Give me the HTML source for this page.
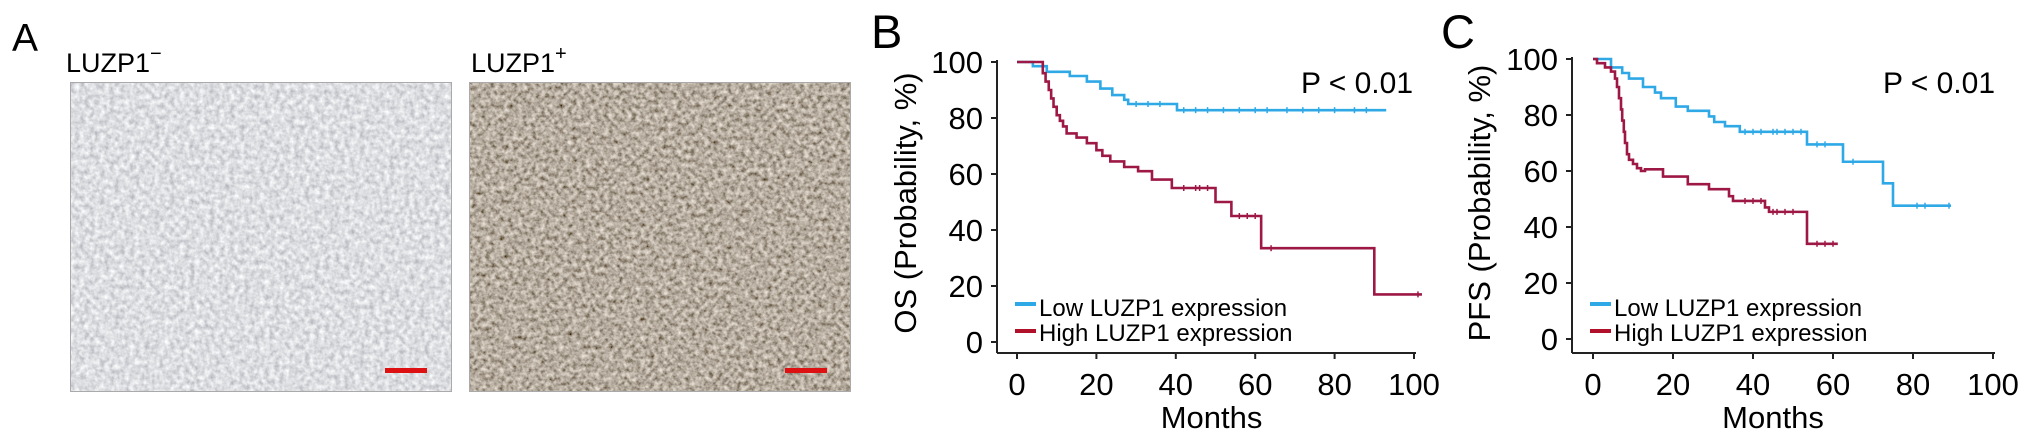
<!DOCTYPE html>
<html><head><meta charset="utf-8">
<style>
html,body{margin:0;padding:0;background:#fff;}
body{width:2032px;height:442px;overflow:hidden;position:relative;font-family:"Liberation Sans",Arial,sans-serif;}
svg{position:absolute;left:0;top:0;}
text{font-family:"Liberation Sans",Arial,sans-serif;fill:#000;}
</style></head>
<body>
<svg id="fig" width="2032" height="442" viewBox="0 0 2032 442">
<defs>
<filter id="texL" x="0" y="0" width="1" height="1">
<feTurbulence type="fractalNoise" baseFrequency="0.2" numOctaves="3" seed="3" result="n"/>
<feColorMatrix in="n" type="matrix" values="0.7 0 0 0 0.37  0.7 0 0 0 0.38  0.65 0 0 0 0.43  0 0 0 0 1"/>
</filter>
<filter id="texR" x="0" y="0" width="1" height="1">
<feTurbulence type="fractalNoise" baseFrequency="0.22" numOctaves="3" seed="7" result="n"/>
<feColorMatrix in="n" type="matrix" values="1.0 0 0 0 -0.03  0.95 0 0 0 -0.06  0.9 0 0 0 -0.1  0 0 0 0 1"/>
</filter>
</defs>
<!-- Panel A -->
<text x="12" y="51" font-size="39">A</text>
<text x="66" y="72" font-size="27">LUZP1<tspan font-size="20" dy="-12">−</tspan></text>
<text x="471" y="72" font-size="27">LUZP1<tspan font-size="20" dy="-12">+</tspan></text>
<g>
<rect x="70" y="82" width="382" height="310" filter="url(#texL)"/>
<rect x="70.5" y="82.5" width="381" height="309" fill="none" stroke="#aaa" stroke-width="1"/>
<rect x="385" y="368" width="42" height="5" fill="#d11"/>
</g>
<g>
<rect x="469" y="82" width="382" height="310" filter="url(#texR)"/>
<rect x="469.5" y="82.5" width="381" height="309" fill="none" stroke="#aaa" stroke-width="1"/>
<rect x="785" y="368" width="42" height="5" fill="#d11"/>
</g>
<g id="chartB"></g>
<g id="chartC"></g>
</svg>
<script>
// ---- data: chart B (OS) step functions: [month, survival%] change points ----
const osLowT = [0,4,7.5,13.3,17.6,21,24,27,28,40.3,93];
const osLowS = [100,98.5,96.5,95,93,90.5,88.2,86.5,85,82.8,82.8];
const osLowCens = [30,33,36,42,45,48,52,56,60,63,68,72,76,80,85,88];
const osHighT = [0,6.5,7.2,8,8.6,9.2,10,10.8,11.6,12.5,15,17.6,20,21.5,23.5,27,30.5,34,39,50,54,61.5,90,102];
const osHighS = [100,96,93,90,87,84,81,79,77,74.5,73,71,68.5,66.5,64.5,62.5,61,58,55,50,45,33.5,17,17];
const osHighCens = [42,45,46,48,56,58,60,64,101];
// ---- data: chart C (PFS) ----
const pfsLowT = [0,4.5,7.3,9,12.5,15.5,17,20.7,23.7,29,30.3,33,36.7,53.5,62.5,72.5,75,89.5];
const pfsLowS = [100,97,95,93,90,88,86,83,81.5,79.5,77.5,76,74,69.5,63.3,55.6,47.6,47.6];
const pfsLowCens = [38,40,42,45,46,48,50,52,56,58,65,81,83,89];
const pfsHighT = [0,1,3,4.5,5.5,6,6.5,7,7.3,7.7,8,8.5,9,10,11,12,13,17.5,23.7,29,34,35,43,44,53.5,61.2];
const pfsHighS = [100,98.5,97,95.5,93,90,86,82,78,74,70,66,64,62.5,61,60,60.6,58,55.3,53.5,51,49.3,47,45.4,34,34];
const pfsHighCens = [38,40,42,45,46,48,50,56,58,60];
const xTicks = [0,20,40,60,80,100];
const yTicks = [0,20,40,60,80,100];

const NS = "http://www.w3.org/2000/svg";
function mk(parent, tag, attrs){ const e=document.createElementNS(NS,tag); for(const k in attrs) e.setAttribute(k,attrs[k]); parent.appendChild(e); return e; }
function stepAt(T,S,t){ let v=S[0]; for(let i=0;i<T.length;i++){ if(T[i]<=t) v=S[i]; } return v; }

function drawChart(g, cfg){
  const xs = m => cfg.x0 + m*cfg.kx;
  const ys = p => cfg.y0 - p*cfg.ky;
  let ax = mk(g,'line',{x1:cfg.axX,y1:ys(100)-2,x2:cfg.axX,y2:cfg.axY,stroke:'#222','stroke-width':2});
   
  let bx = mk(g,'line',{x1:cfg.axX,y1:cfg.axY,x2:xs(100)+2,y2:cfg.axY,stroke:'#222','stroke-width':2});
   
  yTicks.forEach(v=>{
    const t = mk(g,'line',{x1:cfg.axX-6,y1:ys(v),x2:cfg.axX,y2:ys(v),stroke:'#222','stroke-width':2});
     
    const l = mk(g,'text',{x:cfg.axX-14,y:ys(v)+11,'font-size':31,'text-anchor':'end'});
    l.textContent = v;
     
  });
  xTicks.forEach(v=>{
    const t = mk(g,'line',{x1:xs(v),y1:cfg.axY,x2:xs(v),y2:cfg.axY+6,stroke:'#222','stroke-width':2});
     
    const l = mk(g,'text',{x:xs(v),y:395,'font-size':31,'text-anchor':'middle'});
    l.textContent = v;
     
  });
  const xt = mk(g,'text',{x:xs(cfg.monthsAt),y:428,'font-size':31,'text-anchor':'middle'});
  xt.textContent='Months';
   
  const yt = mk(g,'text',{x:0,y:0,'font-size':31,'text-anchor':'middle',transform:`translate(${cfg.ytX},203) rotate(-90)`});
  yt.textContent = cfg.ytitle;
   
  const pl = mk(g,'text',{x:cfg.letterX,y:48,'font-size':47});
  pl.textContent = cfg.letter;
   
  const pv = mk(g,'text',{x:cfg.pX,y:93,'font-size':30,'text-anchor':'end'});
  pv.textContent='P < 0.01';
   
  cfg.series.forEach(s=>{
    let d = `M${xs(s.T[0])},${ys(s.S[0])}`;
    for(let i=1;i<s.T.length;i++){ d += ` H${xs(s.T[i])} V${ys(s.S[i])}`; }
    const p = mk(g,'path',{d:d,fill:'none',stroke:s.color,'stroke-width':2.6,'stroke-linejoin':'miter'});
     
    s.C.forEach(c=>{
      const v = stepAt(s.T,s.S,c);
      const m = mk(g,'line',{x1:xs(c),y1:ys(v)-3,x2:xs(c),y2:ys(v)+3,stroke:s.color,'stroke-width':1.5});
       
    });
  });
  const lg = mk(g,'g',{});
   
  [['Low LUZP1 expression','#2fa8e6',304,316],['High LUZP1 expression','#b0102a',331,341]].forEach((e,i)=>{
    const ln = mk(lg,'rect',{x:cfg.legX,y:e[2]-2,width:21,height:4,fill:e[1]});
     
    const tx = mk(lg,'text',{x:cfg.legX+24,y:e[3],'font-size':24});
    tx.textContent = e[0];
     
  });
}

drawChart(document.getElementById('chartB'),{
  x0:1017,kx:3.97,y0:342,ky:2.8,axX:997,axY:353,monthsAt:49,ytX:916,ytitle:'OS (Probability, %)',
  letter:'B',letterX:871,pX:1413,legX:1015,
  series:[
    {T:osLowT,S:osLowS,C:osLowCens,color:'#2fa8e6',name:'low-expression-curve'},
    {T:osHighT,S:osHighS,C:osHighCens,color:'#9e1845',name:'high-expression-curve'}
  ]});
drawChart(document.getElementById('chartC'),{
  x0:1593,kx:4.0,y0:339,ky:2.8,axX:1572,axY:353,monthsAt:45,ytX:1490,ytitle:'PFS (Probability, %)',
  letter:'C',letterX:1441,pX:1995,legX:1590,
  series:[
    {T:pfsLowT,S:pfsLowS,C:pfsLowCens,color:'#2fa8e6',name:'low-expression-curve'},
    {T:pfsHighT,S:pfsHighS,C:pfsHighCens,color:'#9e1845',name:'high-expression-curve'}
  ]});
</script>
</body></html>
